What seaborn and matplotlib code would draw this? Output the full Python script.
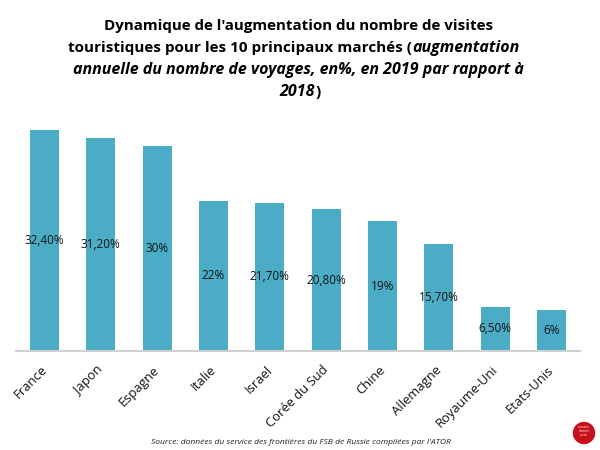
import matplotlib
matplotlib.use("Agg")
import matplotlib.pyplot as plt
import matplotlib.transforms as mtrans
import pandas as pd
import seaborn as sns
from matplotlib.patches import Circle

pays = ['France', 'Japon', 'Espagne', 'Italie', 'Israel', 'Corée du Sud', 'Chine',
        'Allemagne', 'Royaume-Uni', 'Etats-Unis']
valeurs = [32.4, 31.2, 30, 22, 21.7, 20.8, 19, 15.7, 6.5, 6]
etiquettes = ['32,40%', '31,20%', '30%', '22%', '21,70%', '20,80%', '19%', '15,70%', '6,50%', '6%']

sns.set_theme(style='white')
plt.rcParams['font.family'] = ['Open Sans', 'DejaVu Sans']

df = pd.DataFrame({'pays': pays, 'valeur': valeurs})

W, H = 600, 450
fig = plt.figure(figsize=(6, 4.5), dpi=100)
ax = fig.add_axes([16.3 / W, 1 - 351 / H, 563.4 / W, 221 / H])
sns.barplot(data=df, x='pays', y='valeur', color='#4BACC6', saturation=1, width=0.51,
            linewidth=0, ax=ax)
ax.set_ylim(0, 32.4)
ax.set_xlim(-0.5, 9.5)
ax.set_xlabel('')
ax.set_ylabel('')
ax.set_yticks([])
sns.despine(ax=ax, left=True)
ax.spines['bottom'].set_color('#D0D0D0')
ax.spines['bottom'].set_linewidth(1.5)
ax.tick_params(axis='x', length=0, pad=9)
plt.setp(ax.get_xticklabels(), rotation=45, ha='right', rotation_mode='anchor',
         fontsize=9.4, color='#111111')

# décale les noms de pays un peu vers la gauche
decalage = mtrans.ScaledTranslation(-3 / 72, 0, fig.dpi_scale_trans)
for lab in ax.get_xticklabels():
    lab.set_transform(lab.get_transform() + decalage)

# étiquettes au milieu des barres
for i, (v, txt) in enumerate(zip(valeurs, etiquettes)):
    ax.text(i, v / 2, txt, ha='center', va='center', fontsize=8.5, color='#111111')


def px(x, y):
    return x / W, 1 - y / H


# titre : gras et gras italique sur les mêmes lignes
titre = dict(fontweight='bold', color='black', va='center')
fig.text(*px(298.5, 26), "Dynamique de l'augmentation du nombre de visites", ha='center',
         fontsize=10.9, **titre)
fig.text(*px(412, 48), 'touristiques pour les 10 principaux marchés (', ha='right', fontsize=11, **titre)
fig.text(*px(412, 48), 'augmentation', ha='left', style='italic', fontsize=11.5, **titre)
fig.text(*px(298.5, 70), 'annuelle du nombre de voyages, en%, en 2019 par rapport à', ha='center',
         style='italic', fontsize=11.5, **titre)
fig.text(*px(315, 92), '2018', ha='right', style='italic', fontsize=11.5, **titre)
fig.text(*px(315, 92), ')', ha='left', fontsize=11, **titre)

fig.text(*px(301, 443), "Source: données du service des frontières du FSB de Russie compilées par l'ATOR",
         ha='center', va='center', fontsize=6.1, style='italic', color='#222222')

# petit logo rouge en bas à droite
fig.add_artist(Circle((584, H - 433), 10.5, transform=None, color='#C8101A', zorder=5))
fig.text(*px(584, 431), 'russian\nstones\n.com', ha='center', va='center', fontsize=2.5,
         color='white', zorder=6, linespacing=0.9)

fig.savefig('out.png', dpi=100)
